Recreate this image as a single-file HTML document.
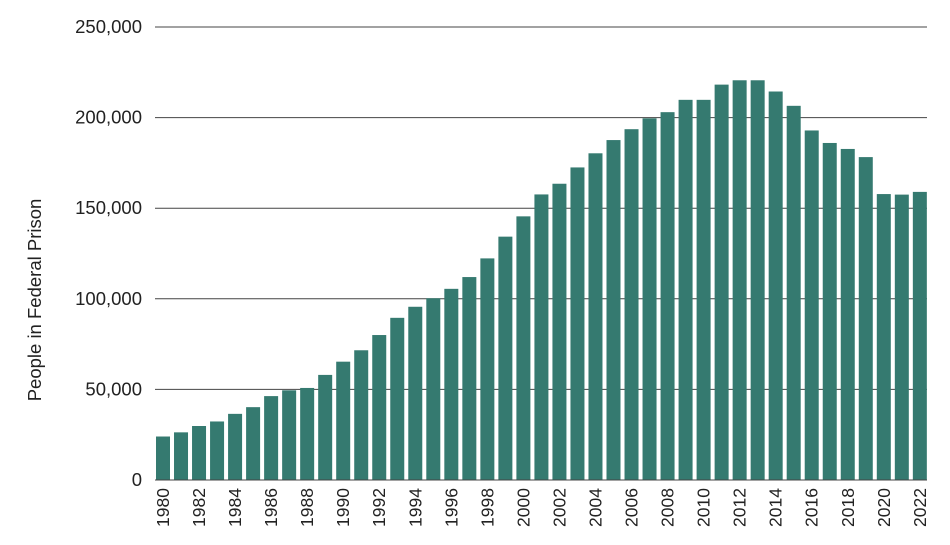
<!DOCTYPE html>
<html><head><meta charset="utf-8"><style>
body{margin:0;background:#fff;}
svg{display:block;font-family:"Liberation Sans",sans-serif;}
</style></head><body>
<svg id="chart" width="950" height="545" viewBox="0 0 950 545"></svg>
<script>
const years=[1980,1981,1982,1983,1984,1985,1986,1987,1988,1989,1990,1991,1992,1993,1994,1995,1996,1997,1998,1999,2000,2001,2002,2003,2004,2005,2006,2007,2008,2009,2010,2011,2012,2013,2014,2015,2016,2017,2018,2019,2020,2021,2022];
const population=[24000,26300,29800,32300,36500,40200,46300,49500,50800,58000,65300,71600,80000,89500,95600,100300,105500,112000,122300,134300,145500,157600,163500,172500,180300,187600,193600,199600,203000,209800,209800,218200,220600,220600,214400,206500,192900,186000,182700,178200,157800,157500,159000];
const yTicks=[0,50000,100000,150000,200000,250000];
const svg=document.getElementById('chart');
const NS='http://www.w3.org/2000/svg';
const x0=163,step=18.02,bw=14,yBase=480,yTop=27,yMax=250000;
const xPos=i=>x0+i*step;
const yPos=v=>yBase-(v/yMax)*(yBase-yTop);
function mk(t,a){const e=document.createElementNS(NS,t);for(const k in a)e.setAttribute(k,a[k]);svg.appendChild(e);return e;}
yTicks.forEach(v=>{
  if(v>0){const l=mk('line',{x1:155,x2:927,y1:yPos(v),y2:yPos(v),stroke:'#444','stroke-width':1});
  
  }
  const t=mk('text',{x:142,y:yPos(v)+6,'text-anchor':'end','font-size':18.5,fill:'#222'});
  t.textContent=v.toLocaleString('en-US');
  
  
});
years.forEach((yr,i)=>{
  const r=mk('rect',{x:xPos(i)-bw/2,y:yPos(population[i]),width:bw,height:yBase-yPos(population[i]),fill:'#357a70'});
  
  
  if(i%2===0){
    const t=mk('text',{x:0,y:0,'text-anchor':'end','font-size':17.5,fill:'#222',transform:`translate(${xPos(i)+6},488) rotate(-90)`});
    t.textContent=yr;
    
    
  }
});
const base=mk('line',{x1:155,x2:927,y1:yBase,y2:yBase,stroke:'#444','stroke-width':1});


const yt=mk('text',{x:0,y:0,'text-anchor':'middle','font-size':18.5,fill:'#222',transform:'translate(41,300) rotate(-90)'});
yt.textContent='People in Federal Prison';


</script>
</body></html>
